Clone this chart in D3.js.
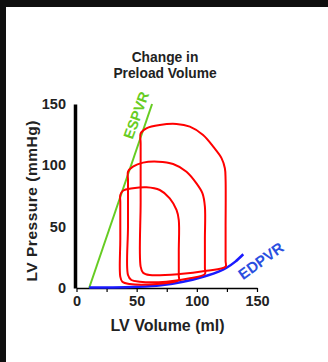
<!DOCTYPE html>
<html>
<head>
<meta charset="utf-8">
<script src="https://cdn.jsdelivr.net/npm/d3@7/dist/d3.min.js"></script>
<style>
  html, body { margin: 0; padding: 0; background: #fff; }
  svg { display: block; }
  text { font-family: "Liberation Sans", Arial, sans-serif; font-weight: bold; }
</style>
</head>
<body>
<script>
// ---- data ----
const titleLines = ["Change in", "Preload Volume"];
const xLabel = "LV Volume (ml)";
const yLabel = "LV Pressure (mmHg)";
const xTicks = [0, 25, 50, 75, 100, 125, 150];
const xTickLabels = [0, 50, 100, 150];
const yTicks = [0, 50, 100, 150];

// ESPVR line (volume, pressure)
const espvr = [[10.5, 0], [62.8, 150]];
// EDPVR curve
const edpvr = [[10.5, 0.4], [30, 0.5], [50, 1.0], [70, 2.3], [88.6, 5.1], [105.3, 9.2], [124.7, 16.5], [132, 21.5], [138.6, 27.5]];

// PV loops: [volume, pressure]
const loopSmall = [[36.4, 9.2], [38.1, 5.1], [44.2, 3.3], [66.4, 3.3], [85, 6.5], [85, 10], [85, 30], [85, 55.4], [83.1, 63.6], [77.5, 73.1], [69.2, 79.9], [58.1, 82.1], [46.9, 81.3], [38.6, 79.3], [36.4, 75.8], [36.4, 70], [36.4, 40]];
const loopMedium = [[42.8, 10.6], [45.6, 6.5], [52.5, 5.1], [74.7, 5.1], [94.2, 7.9], [106.7, 11.4], [106.7, 16], [106.7, 40], [106.7, 66.3], [104.7, 77.2], [99.7, 85.3], [91.4, 94.8], [80.3, 101.1], [67.8, 103], [55.3, 102.2], [46.9, 98.9], [42.8, 94.8], [42.8, 88], [42.8, 50]];
const loopLarge = [[53.3, 17.4], [55.3, 12.5], [60.8, 10.6], [85.8, 11.4], [108, 14.1], [123.9, 17.4], [123.9, 22], [123.9, 50], [123.9, 88], [123.3, 97.6], [120.6, 105.7], [113.6, 115.2], [105.2, 124.7], [94.2, 131.5], [83.1, 133.7], [69.2, 132.9], [58.1, 130.2], [53.3, 126.1], [53.3, 118], [53.3, 70]];

// ---- drawing ----
const W = 328, H = 362;
const svg = d3.select("body").append("svg").attr("width", W).attr("height", H);

// black frame strips (top & left)
svg.append("rect").attr("x", 0).attr("y", 0).attr("width", W).attr("height", 7).attr("fill", "#0f0f0f");
svg.append("rect").attr("x", 0).attr("y", 0).attr("width", 6).attr("height", H).attr("fill", "#0f0f0f");

const x = d3.scaleLinear().domain([0, 150]).range([76.5, 257]);
const y = d3.scaleLinear().domain([0, 150]).range([288, 104]);

// title
svg.append("text").attr("text-anchor", "middle").attr("font-size", 13.8).attr("fill", "#222")
  .selectAll("tspan").data(titleLines).join("tspan")
  .attr("x", 165).attr("y", (d, i) => 61.5 + i * 16.5).text(d => d);

// x axis
const xAxis = d3.axisBottom(x).tickValues(xTicks).tickSize(4).tickSizeOuter(0).tickPadding(4)
  .tickFormat(d => xTickLabels.includes(d) ? d : "");
const gx = svg.append("g").attr("transform", "translate(0,288)").call(xAxis);
gx.select(".domain").attr("stroke", "#000").attr("stroke-width", 1.6);
gx.selectAll(".tick line").attr("stroke", "#000").attr("stroke-width", 1.2);
gx.selectAll(".tick text").attr("font-size", 14.5).attr("font-family", "Liberation Sans, Arial, sans-serif").attr("font-weight", "bold").attr("fill", "#222");

// y axis
const yAxis = d3.axisLeft(y).tickValues(yTicks).tickSize(0).tickPadding(9);
const gy = svg.append("g").attr("transform", "translate(75,0)").call(yAxis);
gy.select(".domain").attr("stroke", "#000").attr("stroke-width", 3.5);
gy.selectAll(".tick text").attr("font-size", 14.5).attr("font-family", "Liberation Sans, Arial, sans-serif").attr("font-weight", "bold").attr("fill", "#222");

// axis labels
svg.append("text").attr("x", 167.5).attr("y", 331).attr("text-anchor", "middle")
  .attr("font-size", 16).attr("fill", "#222").text(xLabel);
svg.append("text").attr("transform", "translate(36.5,201) rotate(-90)").attr("text-anchor", "middle")
  .attr("font-size", 15.5).attr("fill", "#222").attr("textLength", 161).attr("lengthAdjust", "spacing").text(yLabel);

const line = d3.line().x(d => x(d[0])).y(d => y(d[1]));

// ESPVR
svg.append("path").datum(espvr).attr("d", line).attr("fill", "none").attr("stroke", "#66cc22").attr("stroke-width", 2);
svg.append("text").attr("transform", "translate(141,117) rotate(-70)").attr("text-anchor", "middle")
  .attr("font-size", 14.5).attr("fill", "#66cc22").text("ESPVR");

// EDPVR
svg.append("path").datum(edpvr).attr("d", line.curve(d3.curveMonotoneX)).attr("fill", "none").attr("stroke", "#1a1aff").attr("stroke-width", 2.5);
svg.append("text").attr("transform", "translate(264,265) rotate(-36)").attr("text-anchor", "middle")
  .attr("font-size", 15).attr("fill", "#2a4fe0").text("EDPVR");

// loops
const loopLine = d3.line().x(d => x(d[0])).y(d => y(d[1])).curve(d3.curveCatmullRomClosed.alpha(0.5));
svg.selectAll("path.loop").data([loopSmall, loopMedium, loopLarge]).join("path")
  .attr("class", "loop").attr("d", loopLine).attr("fill", "none").attr("stroke", "#ff0000").attr("stroke-width", 2);
</script>
</body>
</html>
